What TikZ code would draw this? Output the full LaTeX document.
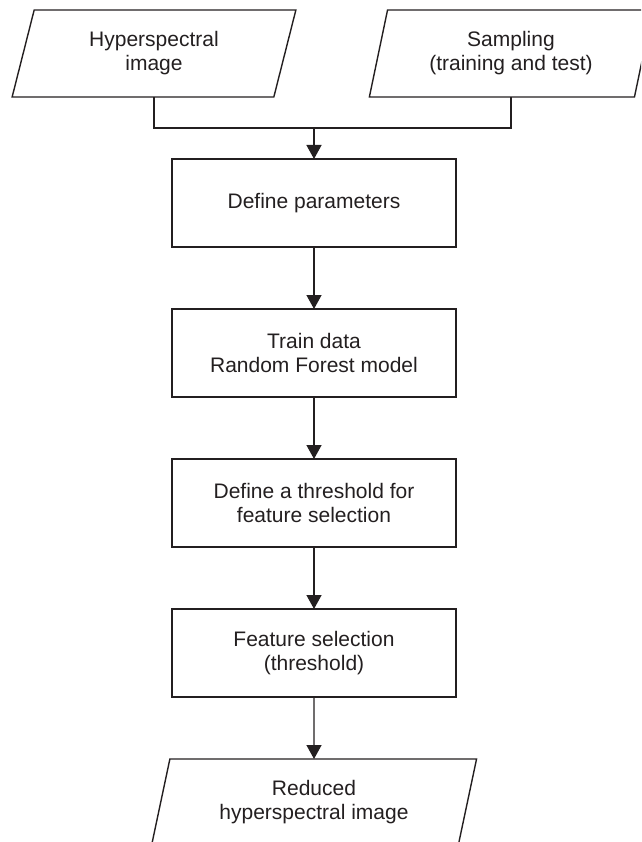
\documentclass[tikz,border=0pt]{standalone}
\usepackage{fontspec}
\setmainfont{Liberation Sans}
\usepackage{xcolor}
\usetikzlibrary{positioning,arrows.meta,shapes.geometric}
\definecolor{ink}{RGB}{35,31,32}

\begin{document}
\begin{tikzpicture}[x=1pt, y=-1pt, node distance=62pt, >={Triangle[length=14pt,width=15pt]}, line width=1.4pt, draw=ink, every node/.style={font=\fontsize{21}{24}\selectfont, text=ink}, proc/.style={draw, align=center, minimum width=284pt, minimum height=88pt, outer sep=0pt}, io/.style={draw, trapezium, trapezium left angle=76, trapezium right angle=104, trapezium stretches=true, align=center, minimum width=284pt, minimum height=87pt, outer sep=0pt}]
\useasboundingbox (0,0) rectangle (641,842);
\clip (0,0) rectangle (641,842);
\node[io] (hsi) at (154,53.5) {Hyperspectral\\image};
\node[io] (samp) at (511,53.5) {Sampling\\(training and test)};
\node[proc] (param) at (314,203) {Define parameters};
\node[proc, below=of param] (train) {Train data\\Random Forest model};
\node[proc, below=of train] (thresh) {Define a threshold for\\feature selection};
\node[proc, below=of thresh] (fsel) {Feature selection\\(threshold)};
\node[io, below=of fsel, minimum width=326pt] (reduced) {Reduced\\hyperspectral image};
\coordinate (join) at (314,128);
\draw (hsi) |- (join) -| (samp);
\draw[->] (join) -- (param);
\draw[->] (param) -- (train);
\draw[->] (train) -- (thresh);
\draw[->] (thresh) -- (fsel);
\draw[->] (fsel) -- (reduced);
\end{tikzpicture}
\end{document}
